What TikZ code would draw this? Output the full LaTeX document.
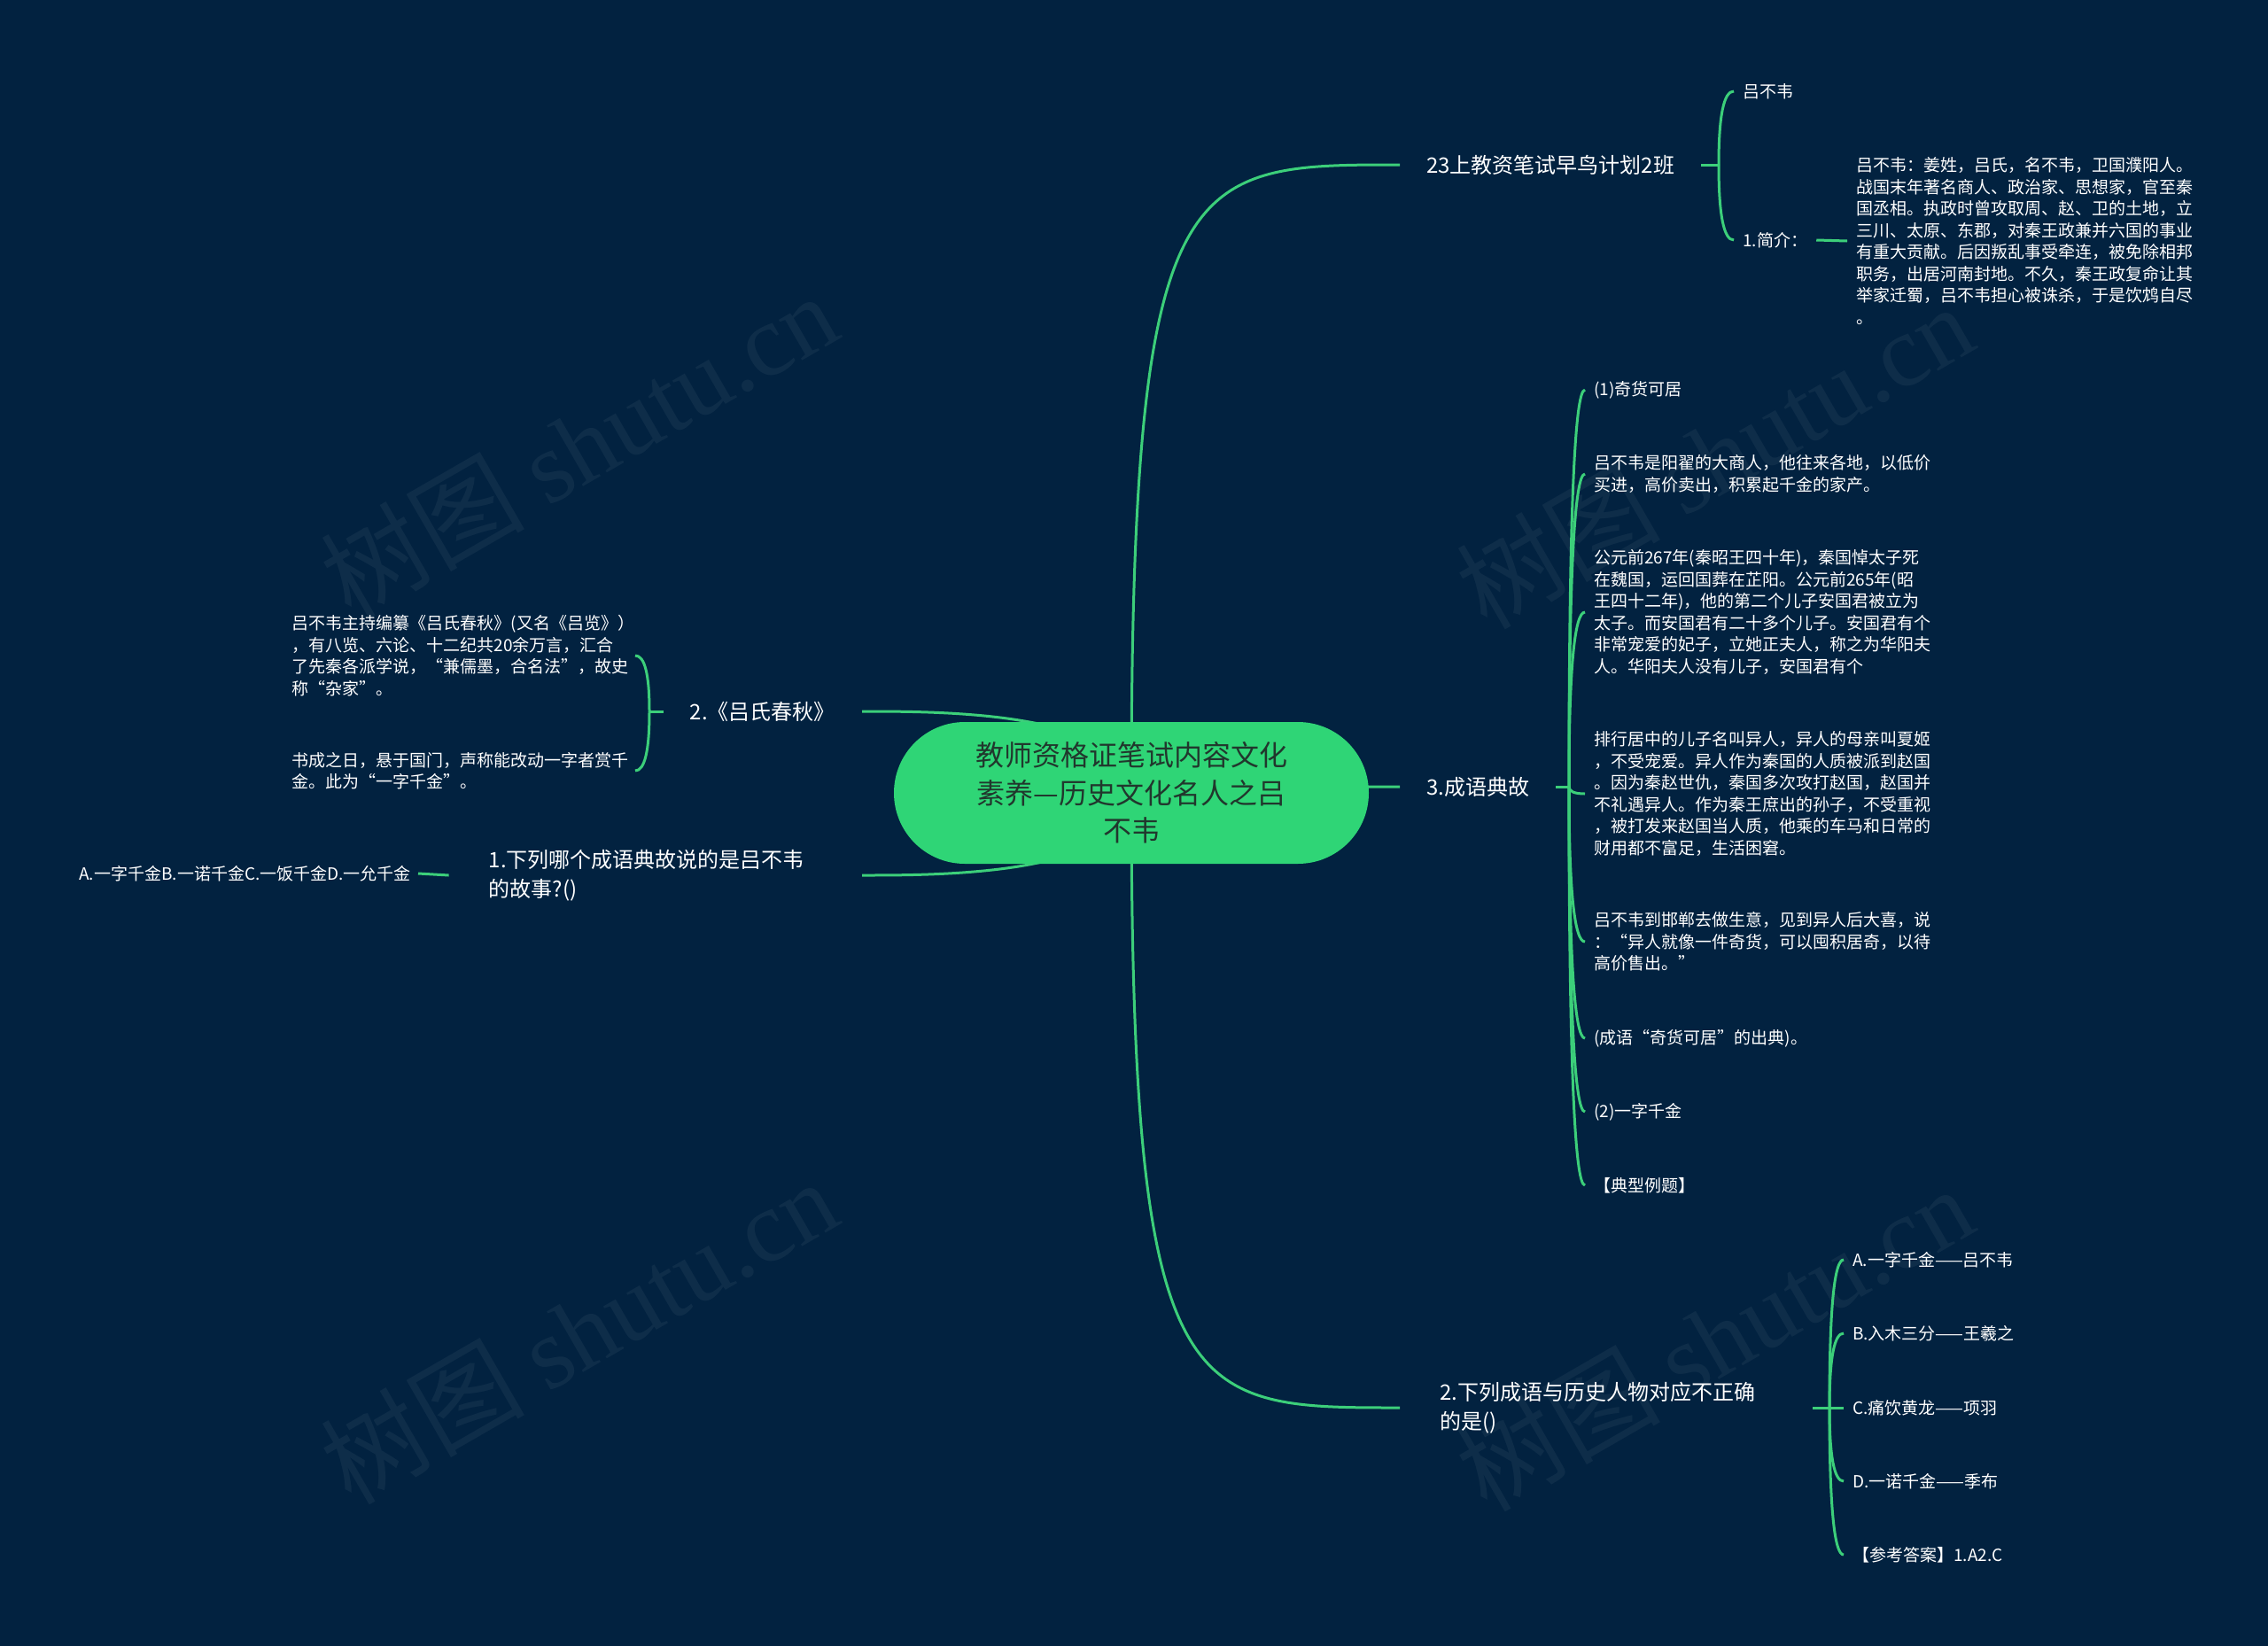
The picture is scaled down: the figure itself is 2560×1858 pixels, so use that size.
\documentclass[tikz,border=0pt]{standalone}
\usepackage{fontspec}
\setmainfont{Noto Sans CJK SC}
\newfontfamily\wmserif{Liberation Serif}
\usetikzlibrary{calc}
\definecolor{bgc}{RGB}{2,34,64}
\definecolor{grn}{RGB}{47,213,118}
\definecolor{lgrn}{RGB}{60,207,122}
\definecolor{roottxt}{RGB}{33,55,45}
\pgfdeclarelayer{bglayer}
\pgfsetlayers{bglayer,main}
\newcommand\myrconn[3]{\draw[conn] (#1) .. controls (#1|-#2) and ($(#1|-#2)!#3!(#2)$) .. (#2);}
\newcommand\myfan[2]{\draw[conn] (#1) .. controls ($(#1)!0.667!(#1|-#2)$) and ($(#2)!0.667!(#1|-#2)$) .. (#2);}
\begin{document}
\begin{tikzpicture}[x=1pt,y=-1pt,
  conn/.style={draw=lgrn,line width=3pt},
  lvlone/.style={text=white,font=\fontsize{24}{33}\selectfont,inner xsep=30pt,inner ysep=6pt,align=left},
  leaf/.style={text=white,font=\fontsize{19}{24.5}\selectfont,inner xsep=10pt,inner ysep=4pt,align=left},
  wmark/.style={text=white,opacity=0.05,rotate=30,font=\fontsize{115}{115}\selectfont}]
\useasboundingbox (0,0) rectangle (2560,1858);

% root
\node[rectangle,rounded corners=80pt,fill=grn,minimum width=536pt,minimum height=160pt,
  text=roottxt,font=\fontsize{32}{42.5}\selectfont,align=center] (root) at (1277,895)
  {教师资格证笔试内容文化\\素养—历史文化名人之吕\\不韦};

% level one
\node[lvlone,anchor=west] (a) at (1580,186) {23上教资笔试早鸟计划2班};
\node[lvlone,anchor=west] (b) at (1580,888) {3.成语典故};
\node[lvlone,anchor=west,inner xsep=45pt,text width=376pt] (c) at (1580,1589) {2.下列成语与历史人物对应不正确\\的是()};
\node[lvlone,anchor=east] (d) at (973,803) {2.《吕氏春秋》};
\node[lvlone,anchor=east,inner xsep=45pt,text width=376pt] (e) at (973,988) {1.下列哪个成语典故说的是吕不韦\\的故事?()};

% hubs
\coordinate (ha) at (1940,186);
\coordinate (hb) at (1771,888);
\coordinate (hc) at (2065,1589);
\coordinate (hd) at (733,803);

% leaves of a
\node[leaf,anchor=west] (a1) at (1957,103) {吕不韦};
\node[leaf,anchor=west] (a2) at (1957,271) {1.简介：};
\node[leaf,anchor=west] (a2p) at (2085,272) {吕不韦：姜姓，吕氏，名不韦，卫国濮阳人。\\战国末年著名商人、政治家、思想家，官至秦\\国丞相。执政时曾攻取周、赵、卫的土地，立\\三川、太原、东郡，对秦王政兼并六国的事业\\有重大贡献。后因叛乱事受牵连，被免除相邦\\职务，出居河南封地。不久，秦王政复命让其\\举家迁蜀，吕不韦担心被诛杀，于是饮鸩自尽\\。};

% leaves of b
\node[leaf,anchor=west] (b1) at (1789,440) {(1)奇货可居};
\node[leaf,anchor=west] (b2) at (1789,535) {吕不韦是阳翟的大商人，他往来各地，以低价\\买进，高价卖出，积累起千金的家产。};
\node[leaf,anchor=west] (b3) at (1789,691) {公元前267年(秦昭王四十年)，秦国悼太子死\\在魏国，运回国葬在芷阳。公元前265年(昭\\王四十二年)，他的第二个儿子安国君被立为\\太子。而安国君有二十多个儿子。安国君有个\\非常宠爱的妃子，立她正夫人，称之为华阳夫\\人。华阳夫人没有儿子，安国君有个};
\node[leaf,anchor=west] (b4) at (1789,896) {排行居中的儿子名叫异人，异人的母亲叫夏姬\\，不受宠爱。异人作为秦国的人质被派到赵国\\。因为秦赵世仇，秦国多次攻打赵国，赵国并\\不礼遇异人。作为秦王庶出的孙子，不受重视\\，被打发来赵国当人质，他乘的车马和日常的\\财用都不富足，生活困窘。};
\node[leaf,anchor=west] (b5) at (1789,1063) {吕不韦到邯郸去做生意，见到异人后大喜，说\\：“异人就像一件奇货，可以囤积居奇，以待\\高价售出。”};
\node[leaf,anchor=west] (b6) at (1789,1172) {(成语“奇货可居”的出典)。};
\node[leaf,anchor=west] (b7) at (1789,1255) {(2)一字千金};
\node[leaf,anchor=west] (b8) at (1789,1338) {【典型例题】};

% leaves of c
\node[leaf,anchor=west] (c1) at (2081,1422) {A.一字千金——吕不韦};
\node[leaf,anchor=west] (c2) at (2081,1505) {B.入木三分——王羲之};
\node[leaf,anchor=west] (c3) at (2081,1589) {C.痛饮黄龙——项羽};
\node[leaf,anchor=west] (c4) at (2081,1672) {D.一诺千金——季布};
\node[leaf,anchor=west] (c5) at (2081,1755) {【参考答案】1.A2.C};

% leaves of d
\node[leaf,anchor=east,text width=377pt] (d1) at (717,740) {吕不韦主持编纂《吕氏春秋》(又名《吕览》）\\，有八览、六论、十二纪共20余万言，汇合\\了先秦各派学说，“兼儒墨，合名法”，故史\\称“杂家”。};
\node[leaf,anchor=east,text width=377pt] (d2) at (717,870) {书成之日，悬于国门，声称能改动一字者赏千\\金。此为“一字千金”。};

% leaf of e
\node[leaf,anchor=east,inner xsep=8pt] (e1) at (472,986) {A.一字千金B.一诺千金C.一饭千金D.一允千金};

\begin{pgfonlayer}{bglayer}
\fill[bgc] (0,0) rectangle (2560,1858);
\node[wmark] (w1) at (653,502) {树图 {\wmserif shutu.cn}};
\node[wmark] (w2) at (1935,514) {树图 {\wmserif shutu.cn}};
\node[wmark] (w3) at (653,1502) {树图 {\wmserif shutu.cn}};
\node[wmark] (w4) at (1935,1510) {树图 {\wmserif shutu.cn}};
% root connectors
\myrconn{root.center}{a.west}{0.2}
\myrconn{root.center}{b.west}{0.2}
\myrconn{root.center}{c.west}{0.2}
\myrconn{root.center}{d.east}{0.7}
\myrconn{root.center}{e.east}{0.7}
% hub stubs
\draw[conn] (a.east) -- (ha);
\draw[conn] (b.east) -- (hb);
\draw[conn] (c.east) -- (hc);
\draw[conn] (d.west) -- (hd);
% fans
\myfan{ha}{a1.west}
\myfan{ha}{a2.west}
\draw[conn] (a2.east) -- (a2p.west);
\myfan{hb}{b1.west}
\myfan{hb}{b2.west}
\myfan{hb}{b3.west}
\myfan{hb}{b4.west}
\myfan{hb}{b5.west}
\myfan{hb}{b6.west}
\myfan{hb}{b7.west}
\myfan{hb}{b8.west}
\myfan{hc}{c1.west}
\myfan{hc}{c2.west}
\myfan{hc}{c3.west}
\myfan{hc}{c4.west}
\myfan{hc}{c5.west}
\myfan{hd}{d1.east}
\myfan{hd}{d2.east}
\draw[conn] (e.west) -- (e1.east);
\end{pgfonlayer}
\end{tikzpicture}
\end{document}
